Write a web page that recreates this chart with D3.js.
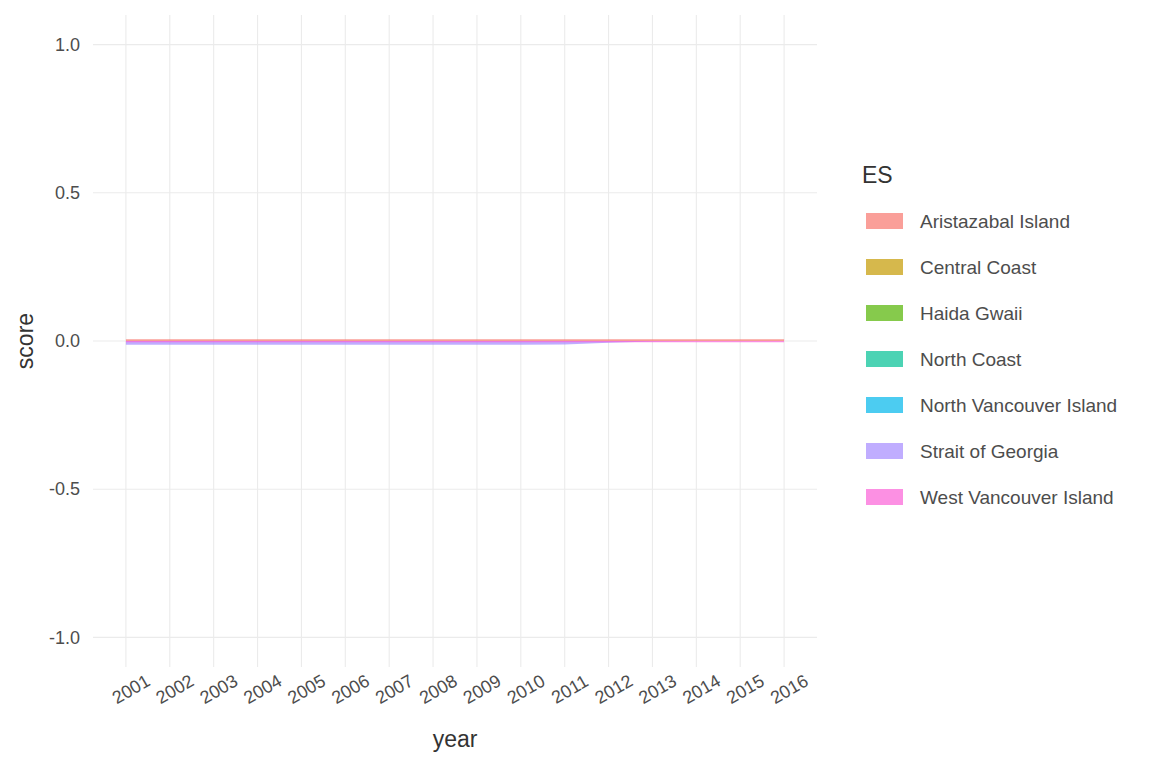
<!DOCTYPE html>
<html>
<head>
  <meta charset="utf-8">
  <title>ES score</title>
  <script src="https://cdnjs.cloudflare.com/ajax/libs/d3/7.8.5/d3.min.js"></script>
  <style>
    body { margin: 0; background: #fff; }
    text { font-family: "Liberation Sans", Arial, sans-serif; }
  </style>
</head>
<body>
  <script>
    // data (scores all sit close to zero)
    const years = [2001, 2002, 2003, 2004, 2005, 2006, 2007, 2008, 2009, 2010, 2011, 2012, 2013, 2014, 2015, 2016];
    const esNames = ["Aristazabal Island", "Central Coast", "Haida Gwaii", "North Coast",
                     "North Vancouver Island", "Strait of Georgia", "West Vancouver Island"];
    const aristazabal = [0.006, 0.006, 0.006, 0.006, 0.006, 0.006, 0.006, 0.006, 0.006, 0.006, 0.006, 0.006, 0.006, 0.006, 0.006, 0.006];
    const centralCoast = [0, 0, 0, 0, 0, 0, 0, 0, 0, 0, 0, 0, 0, 0, 0, 0];
    const haidaGwaii = [0, 0, 0, 0, 0, 0, 0, 0, 0, 0, 0, 0, 0, 0, 0, 0];
    const northCoast = [0, 0, 0, 0, 0, 0, 0, 0, 0, 0, 0, 0, 0, 0, 0, 0];
    const northVancouver = [0, 0, 0, 0, 0, 0, 0, 0, 0, 0, 0, 0, 0, 0, 0, 0];
    const straitGeorgia = [-0.013, -0.013, -0.013, -0.013, -0.013, -0.013, -0.013, -0.013, -0.013, -0.013, -0.012, -0.006, -0.002, 0, 0, 0];
    const westVancouver = [-0.004, -0.004, -0.004, -0.004, -0.004, -0.004, -0.004, -0.004, -0.004, -0.004, -0.004, -0.004, -0.004, -0.004, -0.004, -0.004];
    const yTicks = [-1.0, -0.5, 0.0, 0.5, 1.0];
    const yTickLabels = ["-1.0", "-0.5", "0.0", "0.5", "1.0"];
    const colours = ["#F8766D", "#C49A00", "#53B400", "#00C094", "#00B6EB", "#A58AFF", "#FB61D7"];

    const seriesValues = [aristazabal, centralCoast, haidaGwaii, northCoast, northVancouver, straitGeorgia, westVancouver];
    const series = esNames.map((name, i) => ({
      name: name,
      colour: colours[i],
      points: years.map((yr, j) => ({ year: yr, value: seriesValues[i][j] }))
    }));

    const width = 1152, height = 768;
    const margin = { left: 93, right: 335, top: 15, bottom: 101 };

    const svg = d3.select("body")
      .append("svg")
      .attr("width", width)
      .attr("height", height);

    const x = d3.scaleLinear()
      .domain([2000.25, 2016.75])
      .range([margin.left, width - margin.right]);

    const y = d3.scaleLinear()
      .domain([-1.1, 1.1])
      .range([height - margin.bottom, margin.top]);

    // grid
    const grid = svg.append("g");
    grid.selectAll("line.v")
      .data(years)
      .enter()
      .append("line")
      .attr("x1", d => x(d)).attr("x2", d => x(d))
      .attr("y1", margin.top).attr("y2", height - margin.bottom)
      .attr("stroke", "#ebebeb").attr("stroke-width", 1.1);
    grid.selectAll("line.h")
      .data(yTicks)
      .enter()
      .append("line")
      .attr("x1", margin.left).attr("x2", width - margin.right)
      .attr("y1", d => y(d)).attr("y2", d => y(d))
      .attr("stroke", "#ebebeb").attr("stroke-width", 1.1);

    // areas
    const area = d3.area()
      .x(d => x(d.year))
      .y0(y(0))
      .y1(d => y(d.value));

    svg.append("g")
      .selectAll("path")
      .data(series)
      .enter()
      .append("path")
      .attr("fill", d => d.colour)
      .attr("fill-opacity", 0.7)
      .attr("d", d => area(d.points));

    // y axis labels
    svg.append("g")
      .selectAll("text")
      .data(yTicks)
      .enter()
      .append("text")
      .attr("x", 80)
      .attr("y", d => y(d))
      .attr("dy", "0.35em")
      .attr("text-anchor", "end")
      .attr("fill", "#4d4d4d")
      .style("font-size", "18px")
      .text((d, i) => yTickLabels[i]);

    // x axis labels
    svg.append("g")
      .selectAll("text")
      .data(years)
      .enter()
      .append("text")
      .attr("transform", d => `translate(${x(d) + 5},${689}) rotate(-30)`)
      .attr("dy", "0.35em")
      .attr("text-anchor", "middle")
      .attr("fill", "#4d4d4d")
      .style("font-size", "18px")
      .text(d => d);

    // axis titles
    svg.append("text")
      .attr("x", (margin.left + width - margin.right) / 2)
      .attr("y", 747)
      .attr("text-anchor", "middle")
      .attr("fill", "#333")
      .style("font-size", "23px")
      .text("year");

    svg.append("text")
      .attr("transform", `translate(33,${y(0)}) rotate(-90)`)
      .attr("text-anchor", "middle")
      .attr("fill", "#333")
      .style("font-size", "23px")
      .text("score");

    // legend
    const legend = svg.append("g");
    legend.append("text")
      .attr("x", 862)
      .attr("y", 183)
      .attr("fill", "#333")
      .style("font-size", "23px")
      .text("ES");

    const items = legend.selectAll("g.item")
      .data(series)
      .enter()
      .append("g")
      .attr("transform", (d, i) => `translate(866,${221 + i * 46})`);
    items.append("rect")
      .attr("x", 0).attr("y", -8)
      .attr("width", 37).attr("height", 16)
      .attr("fill", d => d.colour)
      .attr("fill-opacity", 0.7);
    items.append("text")
      .attr("x", 54)
      .attr("dy", "0.35em")
      .attr("fill", "#4d4d4d")
      .style("font-size", "19px")
      .text(d => d.name);
  </script>
</body>
</html>
